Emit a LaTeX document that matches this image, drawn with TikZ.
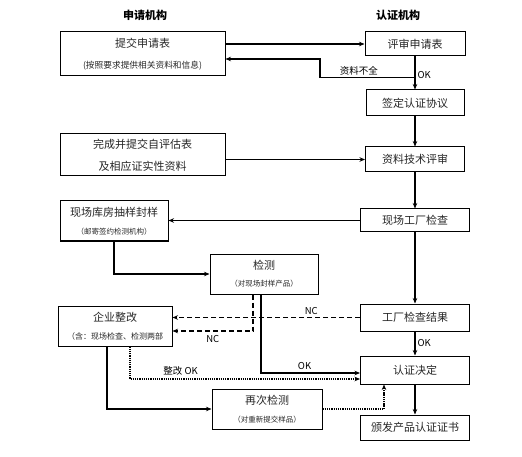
\documentclass[tikz,border=0pt]{standalone}
\usepackage{fontspec}
\setmainfont{Noto Sans CJK SC}
\usepackage{tikz}
\usetikzlibrary{arrows.meta,positioning,calc}
\newcommand{\mainsz}{\fontsize{11}{13}\selectfont}
\newcommand{\subsz}{\fontsize{7.5}{9}\selectfont}
\newcommand{\hdsz}{\fontsize{11}{13}\selectfont\bfseries}
\newcommand{\lblsz}{\fontsize{9.5}{11}\selectfont}

\begin{document}
\begin{tikzpicture}[x=1pt, y=-1pt,
  box/.style={rectangle, draw, line width=1pt, inner sep=0pt, align=center,
    font=\mainsz, text=black!85},
  arr/.style={-{Stealth[length=5.5pt, width=4.5pt]}, line width=1.1pt},
  ncarr/.style={arr, dash pattern=on 5pt off 3pt},
  okarr/.style={arr, dash pattern=on 1.3pt off 0.9pt},
  lbl/.style={font=\lblsz, inner sep=2pt}]
\useasboundingbox (0,0) rectangle (522,457);
\node[font=\hdsz] (hApp) at (145,15) {申请机构};
\node[font=\hdsz] (hCert) at (398,15) {认证机构};
\node[box, minimum width=165pt, minimum height=44pt] (apply) at (142.5,54)
  {提交申请表\\[8.5pt]{\fontsize{8.7}{10}\selectfont (按照要求提供相关资料和信息)}};
\node[box, minimum width=100pt, minimum height=24pt] (review) at (415,44) {评审申请表};
\node[box, minimum width=98pt, minimum height=26pt] (sign) at (415,103) {签定认证协议};
\node[box, minimum width=165pt, minimum height=42pt] (self) at (142.5,155)
  {完成并提交自评估表\\[9pt]及相应证实性资料};
\node[box, minimum width=99pt, minimum height=25pt] (tech) at (415,159.5) {资料技术评审};
\node[box, minimum width=109pt, minimum height=23pt] (factory) at (415,220.5) {现场工厂检查};
\node[box, minimum width=108pt, minimum height=40pt] (sample) at (114,221)
  {现场库房抽样封样\\[5pt]{\subsz （邮寄签约检测机构）}};
\node[box, minimum width=108pt, minimum height=40pt] (test) at (264,274)
  {检测\\[4pt]{\subsz （对现场封样产品）}};
\node[box, minimum width=109pt, minimum height=27pt] (result) at (415,317.5) {工厂检查结果};
\node[box, minimum width=114pt, minimum height=40pt] (rectify) at (115,326)
  {企业整改\\[5pt]{\fontsize{8}{9.5}\selectfont （含：现场检查、检测两部}};
\node[box, minimum width=109pt, minimum height=28pt] (decide) at (415,370) {认证决定};
\node[box, minimum width=110pt, minimum height=40pt] (retest) at (267,409)
  {再次检测\\[5pt]{\subsz （对重新提交样品）}};
\node[box, minimum width=109pt, minimum height=25pt] (cert) at (415,427.5) {颁发产品认证证书};

\draw[arr] (review.west -| apply.east) -- (review.west);
\draw[arr] ([yshift=-21pt]review.south) -- ++(-95pt,0pt)
  node[lbl, pos=0.59, above] {资料不全} |- ([yshift=-5pt]apply.east);
\draw[arr] (review) -- node[lbl, right, pos=0.55] {OK} (sign);
\draw[arr] (tech.west -| self.east) -- (tech.west);
\foreach \a/\b in {sign/tech,tech/factory,factory/result,decide/cert}
  \draw[arr] (\a) -- (\b);
\draw[arr] (factory.west) -- (factory.west -| sample.east);
\draw[arr] (sample.south) |- (test.west);
\draw[ncarr] (result.west) -- node[lbl, above, pos=0.26] {NC} (result.west -| rectify.east);
\draw[ncarr] ([xshift=-11pt]test.south) |- node[lbl, below=2pt, pos=0.75] {NC}
  ([yshift=-5pt]rectify.east);
\draw[arr] ([xshift=-3pt]test.south) |- node[lbl, above=1pt, pos=0.72] {OK}
  ([yshift=-3pt]decide.west);
\draw[arr] (result) -- node[lbl, right, pos=0.5] {OK} (decide);
\draw[okarr] ([xshift=15pt]rectify.south) |- node[lbl, above=1pt, pos=0.61] {整改 OK}
  ([yshift=-9pt]decide.west);
\draw[arr] ([xshift=-8pt]rectify.south) |- (retest.west);
\draw[okarr] (retest.east) -| ([xshift=-31pt]decide.south);
\end{tikzpicture}
\end{document}
